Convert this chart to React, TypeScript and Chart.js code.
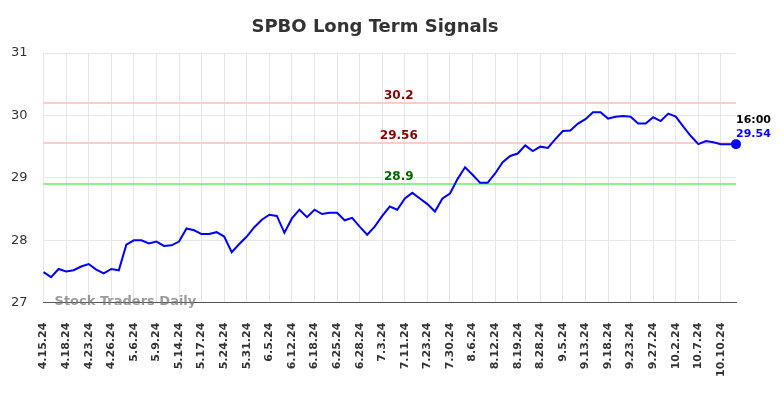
import React, { useEffect, useRef } from "react";
import { Chart, registerables } from "chart.js";

Chart.register(...registerables);

const dates: string[] = [
  "4.15.24", "4.16.24", "4.17.24", "4.18.24", "4.19.24", "4.22.24", "4.23.24", "4.24.24", "4.25.24",
  "4.26.24", "4.30.24", "5.2.24", "5.6.24", "5.7.24", "5.8.24", "5.9.24", "5.10.24", "5.13.24",
  "5.14.24", "5.15.24", "5.16.24", "5.17.24", "5.20.24", "5.22.24", "5.24.24", "5.28.24", "5.30.24",
  "5.31.24", "6.3.24", "6.4.24", "6.5.24", "6.7.24", "6.10.24", "6.12.24", "6.13.24", "6.14.24",
  "6.18.24", "6.20.24", "6.21.24", "6.25.24", "6.26.24", "6.27.24", "6.28.24", "7.1.24", "7.2.24",
  "7.3.24", "7.5.24", "7.9.24", "7.11.24", "7.15.24", "7.18.24", "7.23.24", "7.25.24", "7.29.24",
  "7.30.24", "7.31.24", "8.2.24", "8.6.24", "8.8.24", "8.9.24", "8.12.24", "8.14.24", "8.16.24",
  "8.19.24", "8.21.24", "8.26.24", "8.28.24", "8.30.24", "9.3.24", "9.5.24", "9.9.24", "9.11.24",
  "9.13.24", "9.16.24", "9.17.24", "9.18.24", "9.19.24", "9.20.24", "9.23.24", "9.24.24", "9.25.24",
  "9.27.24", "9.30.24", "10.1.24", "10.2.24", "10.3.24", "10.4.24", "10.7.24", "10.8.24", "10.9.24",
  "10.10.24", "10.11.24", "10.14.24",
];

const prices: number[] = [
  27.49, 27.41, 27.54, 27.5, 27.52, 27.58, 27.62, 27.53, 27.47,
  27.54, 27.52, 27.93, 28.0, 28.0, 27.95, 27.98, 27.91, 27.92,
  27.98, 28.19, 28.16, 28.1, 28.1, 28.13, 28.06, 27.81, 27.94,
  28.06, 28.21, 28.33, 28.41, 28.39, 28.12, 28.35, 28.49, 28.37,
  28.49, 28.42, 28.44, 28.44, 28.32, 28.36, 28.22, 28.09, 28.22,
  28.39, 28.54, 28.49, 28.67, 28.76, 28.67, 28.58, 28.46, 28.67,
  28.75, 28.98, 29.17, 29.05, 28.92, 28.92, 29.07, 29.25, 29.35,
  29.39, 29.52, 29.43, 29.5, 29.48, 29.62, 29.75, 29.76, 29.87,
  29.94, 30.05, 30.05, 29.95, 29.98, 29.99, 29.98, 29.87, 29.87,
  29.97, 29.91, 30.03, 29.98, 29.82, 29.67, 29.54, 29.59, 29.57,
  29.54, 29.54, 29.54,
];

const signalLevels: number[] = [30.2, 29.56, 28.9];
const signalLabels: string[] = ["30.2", "29.56", "28.9"];
const signalLineColors: string[] = ["#ffcccc", "#ffcccc", "#90ee90"];
const signalTextColors: string[] = ["#8b0000", "#8b0000", "#006400"];

const yTicks: number[] = [27, 28, 29, 30, 31];
const titleText = "SPBO Long Term Signals";
const lastTimeLabel = "16:00";
const lastPriceLabel = "29.54";
const watermark = "Stock Traders Daily";
const labelEvery = 3;

const overlayPlugin = {
  id: "overlay",
  beforeDatasetsDraw(chart: any) {
    const { ctx, chartArea, scales } = chart;
    const y = scales.y;
    ctx.save();
    signalLevels.forEach((v, i) => {
      const py = y.getPixelForValue(v);
      ctx.strokeStyle = signalLineColors[i];
      ctx.lineWidth = 2;
      ctx.beginPath();
      ctx.moveTo(chartArea.left, py);
      ctx.lineTo(chartArea.right, py);
      ctx.stroke();
      ctx.fillStyle = signalTextColors[i];
      ctx.font = "bold 12px 'DejaVu Sans'";
      ctx.textAlign = "center";
      ctx.textBaseline = "middle";
      const cx = chartArea.left + (chartArea.right - chartArea.left) * 0.513;
      ctx.fillText(signalLabels[i], cx, py - 7.5);
    });
    ctx.restore();
  },
  afterDraw(chart: any) {
    const { ctx, chartArea, scales } = chart;
    const x = scales.x;
    const y = scales.y;
    ctx.save();
    ctx.font = "bold 18px 'DejaVu Sans'";
    ctx.fillStyle = "#333";
    ctx.textAlign = "center";
    ctx.textBaseline = "middle";
    ctx.fillText(titleText, 375, 27);

    ctx.font = "bold 13px 'DejaVu Sans'";
    ctx.fillStyle = "rgba(120,120,120,0.75)";
    ctx.textAlign = "left";
    ctx.fillText(watermark, chartArea.left + 11, chartArea.bottom - 1);
    const li = prices.length - 1;
    const px = x.getPixelForValue(li);
    const py = y.getPixelForValue(prices[li]);
    ctx.font = "bold 11px 'DejaVu Sans'";
    ctx.fillStyle = "#000";
    ctx.fillText(lastTimeLabel, px, py - 24.5);
    ctx.fillStyle = "#0000ff";
    ctx.fillText(lastPriceLabel, px, py - 10.5);
    ctx.restore();
  },
};

export default function App() {
  const canvasRef = useRef<HTMLCanvasElement | null>(null);

  useEffect(() => {
    document.body.style.margin = "0";
    const canvas = canvasRef.current;
    if (!canvas) return;
    const last = prices.length - 1;
    const chart = new Chart(canvas, {
      type: "line",
      data: {
        labels: dates,
        datasets: [
          {
            data: prices,
            borderColor: "#0000ff",
            backgroundColor: "#0000ff",
            borderWidth: 2,
            tension: 0,
            pointRadius: (c: any) => (c.dataIndex === last ? 4 : 0),
            pointHoverRadius: 0,
            fill: false,
          },
        ],
      },
      options: {
        animation: false,
        responsive: false,
        maintainAspectRatio: false,
        events: [],
        layout: { padding: { left: -5, right: 48, top: 53, bottom: 1 } },
        plugins: {
          legend: { display: false },
          tooltip: { enabled: false },
          title: { display: false },
        },
        scales: {
          x: {
            type: "category",
            offset: false,
            afterBuildTicks: (scale: any) => {
              scale.ticks = scale.ticks.filter((_t: any, i: number) => i % labelEvery === 0);
            },
            ticks: {
              autoSkip: false,
              maxRotation: 90,
              minRotation: 90,
              padding: 20,
              color: "#333",
              font: { family: "'DejaVu Sans'", size: 11, weight: "bold" },
            },
            grid: { color: "#e6e6e6", drawTicks: false, lineWidth: 1 },
            border: { display: true, color: "#555", width: 1 },
          },
          y: {
            min: 27,
            max: 31,
            afterBuildTicks: (scale: any) => {
              scale.ticks = yTicks.map((v) => ({ value: v }));
            },
            ticks: {
              padding: 16,
              color: "#333",
              font: { family: "'DejaVu Sans'", size: 13 },
            },
            grid: { color: "#e6e6e6", drawTicks: false, lineWidth: 1 },
            border: { display: false },
          },
        },
      },
      plugins: [overlayPlugin],
    } as any);
    return () => chart.destroy();
  }, []);

  return (
    <div style={{ width: 784, height: 398 }}>
      <canvas ref={canvasRef} width={784} height={398} style={{ display: "block" }} />
    </div>
  );
}
